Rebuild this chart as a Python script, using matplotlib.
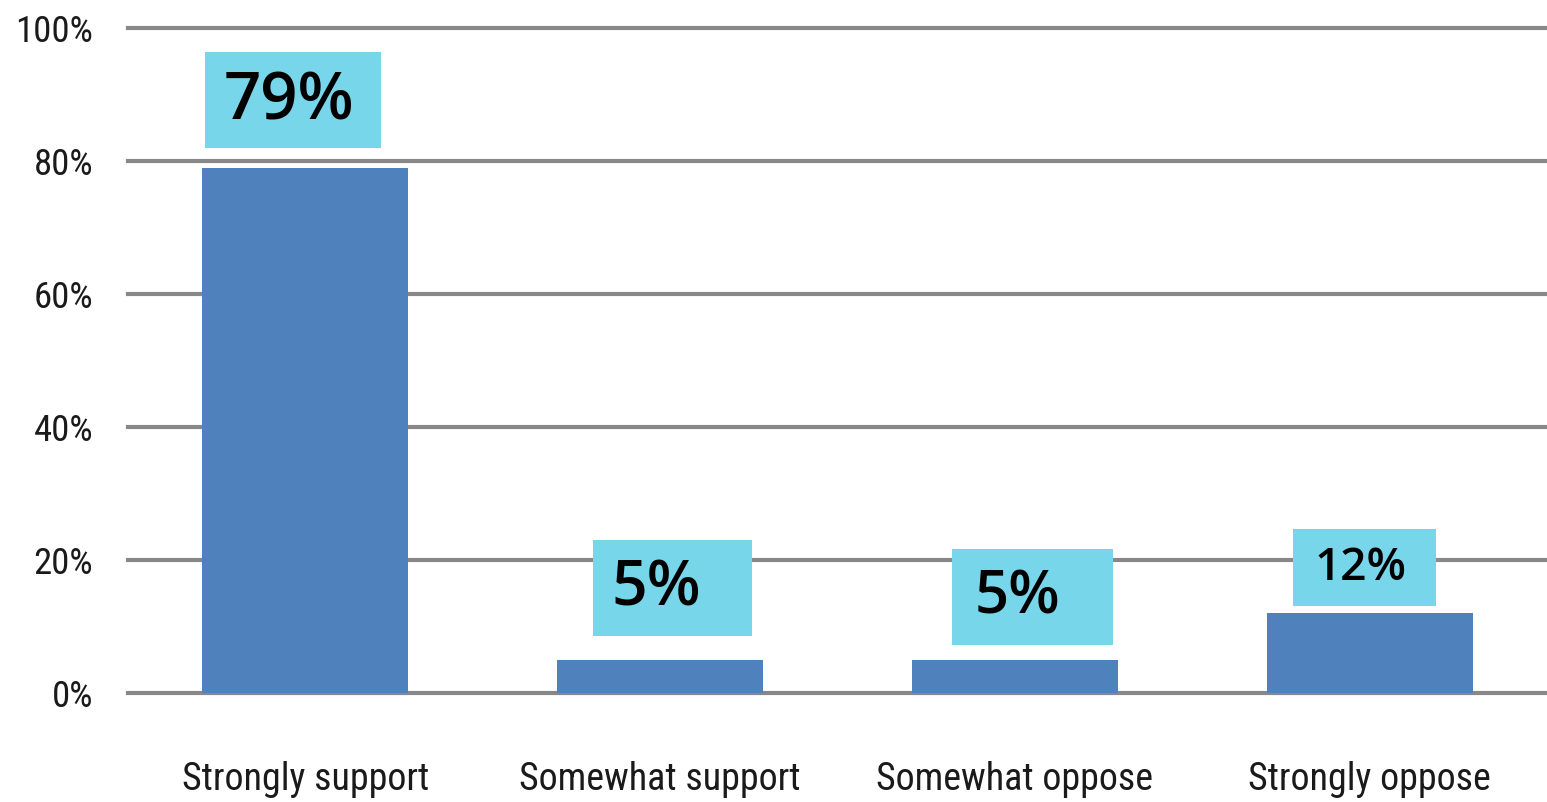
import matplotlib.pyplot as plt
from matplotlib import font_manager
from matplotlib.font_manager import FontProperties
from matplotlib.patches import Rectangle

categories = ["Strongly support", "Somewhat support", "Somewhat oppose", "Strongly oppose"]
shares = [79, 5, 5, 12]
yticks = [0, 20, 40, 60, 80, 100]

# callout boxes: (x0, x1, y0, y1) in data units, text anchor, font size
box_extents = [(-0.282, 0.214, 82.0, 96.4),
               (0.811, 1.259, 8.6, 23.0),
               (1.823, 2.276, 7.2, 21.7),
               (2.783, 3.186, 13.1, 24.7)]
text_anchor = [(-0.045, 86.2), (0.989, 13.2), (2.006, 12.0), (2.975, 17.0)]
text_size = [47, 45, 43, 33]

BAR = "#4F81BD"
BOX = "#78D6EA"
GRID = "#888888"


def narrow_font():
    """Pick a condensed sans face if one is installed, else Roboto."""
    condensed = ("condensed", "semi-condensed", "extra-condensed", "ultra-condensed")
    found = [f for f in font_manager.fontManager.ttflist
             if str(f.stretch) in condensed and f.style == "normal"
             and str(f.weight) in ("400", "normal", "regular", "book")]
    for key in ("Liberation Sans Narrow", "Roboto Condensed", "DejaVu Sans",
                "Open Sans", "Noto Sans", "Sans"):
        for f in found:
            if key in f.name:
                return FontProperties(fname=f.fname)
    if found:
        return FontProperties(fname=found[0].fname)
    return FontProperties(family="Roboto")


def fit_width(labels, ref_text, target_px, renderer):
    ref = [t for t in labels if t.get_text() == ref_text][0]
    w = ref.get_window_extent(renderer).width
    size = ref.get_fontsize() * target_px / w
    for t in labels:
        t.set_fontsize(size)


fig = plt.figure(figsize=(15.47, 8.02), dpi=100)
ax = fig.add_axes([128 / 1547, 109 / 802, 1 - 128 / 1547, (693 - 28) / 802])

x = range(len(categories))
ax.bar(x, shares, width=0.58, color=BAR, zorder=3)

ax.set_xlim(-0.5, 3.5)
ax.set_ylim(0, 100)
ax.set_yticks(yticks)
ax.set_yticklabels([f"{v}%" for v in yticks])
ax.set_xticks(list(x))
ax.set_xticklabels(categories)
ax.tick_params(length=0)
ax.tick_params(axis="y", pad=25)
ax.tick_params(axis="x", pad=70)

prop = narrow_font()
for t in ax.get_xticklabels() + ax.get_yticklabels():
    t.set_fontproperties(prop)
    t.set_fontsize(28)
    t.set_color("#1a1a1a")
for t in ax.get_xticklabels():
    t.set_verticalalignment("baseline")

fig.canvas.draw()
renderer = fig.canvas.get_renderer()
fit_width(ax.get_xticklabels(), "Strongly support", 247, renderer)
fit_width(ax.get_yticklabels(), "100%", 78, renderer)

for s in ax.spines.values():
    s.set_visible(False)
ax.yaxis.grid(True, color=GRID, linewidth=3, zorder=0)
for gl in ax.get_ygridlines():
    gl.set_clip_on(False)

for (x0, x1, y0, y1), (tx, ty), fs, v in zip(box_extents, text_anchor, text_size, shares):
    ax.add_patch(Rectangle((x0, y0), x1 - x0, y1 - y0, facecolor=BOX,
                           edgecolor="none", zorder=4, clip_on=False))
    ax.text(tx, ty, f"{v}%", ha="center", va="baseline", fontsize=fs,
            family="Open Sans", fontweight="semibold", color="black", zorder=5)

fig.savefig("out.png", dpi=100)
